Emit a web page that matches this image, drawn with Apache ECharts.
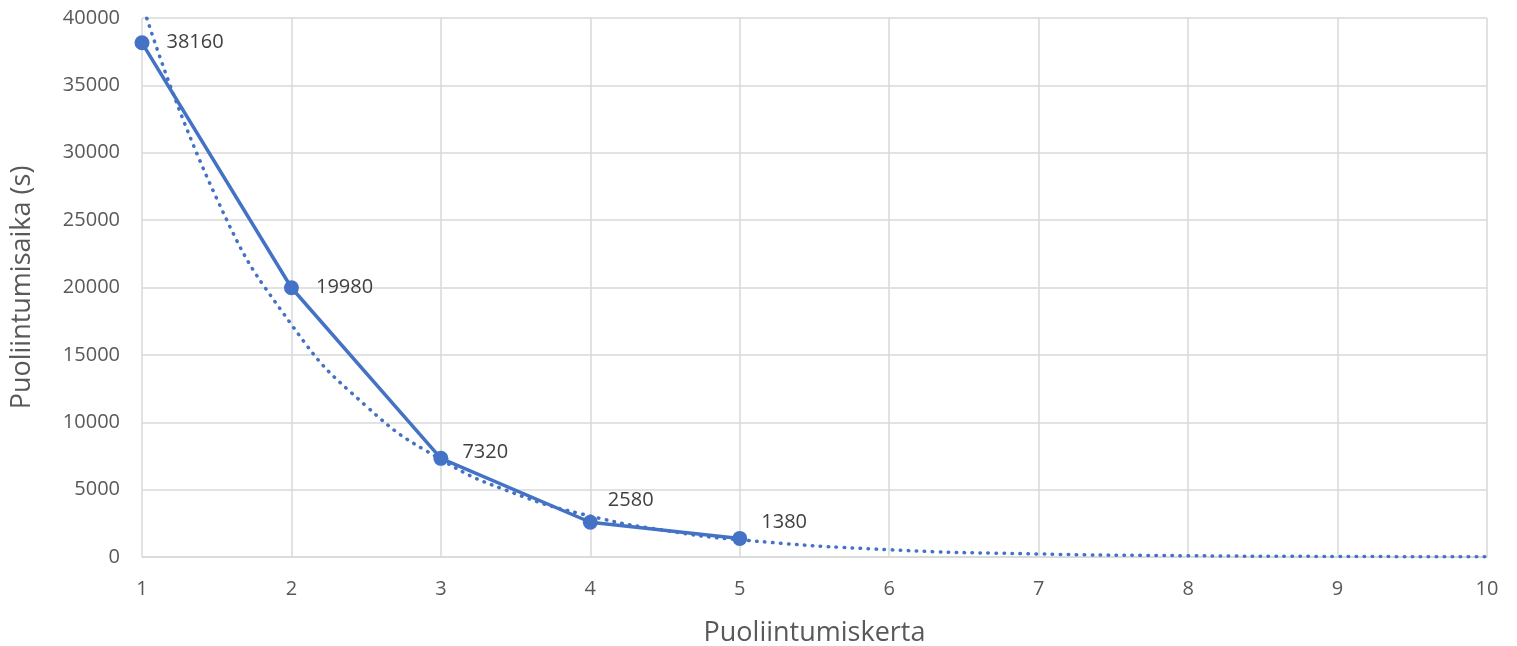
<!DOCTYPE html>
<html><head><meta charset="utf-8">
<script src="https://cdn.jsdelivr.net/npm/echarts@6/dist/echarts.min.js"></script>
<style>html,body{margin:0;padding:0;background:#fff}#c{width:1517px;height:646px}</style>
</head><body><div id="c"></div>
<script>
const xValues = [1, 2, 3, 4, 5];
const yValues = [38160, 19980, 7320, 2580, 1380];
const trendX = [1, 1.5, 2, 2.5, 3, 3.5, 4, 4.5, 5, 6, 7, 8, 9, 10];
const trendY = [41100, 26600, 17250, 11200, 7240, 4690, 3040, 1970, 1280, 540, 225, 95, 40, 17];
const labelOffsets = [[0, 0], [0, 0], [-3, -6], [-7, -22], [-3, -16]];

const chart = echarts.init(document.getElementById('c'));
const font = '"Open Sans", "Noto Sans", sans-serif';
chart.setOption({
  animation: false,
  grid: {left: 142, right: 30, top: 18, bottom: 89, outerBoundsMode: 'none', containLabel: false},
  xAxis: {
    type: 'value', min: 1, max: 10, interval: 1,
    name: 'Puoliintumiskerta', nameLocation: 'middle', nameGap: 63,
    nameTextStyle: {fontSize: 27, color: '#595959', fontFamily: font},
    axisLine: {show: true, lineStyle: {color: '#d9d9d9', width: 1.5}},
    axisTick: {show: false},
    axisLabel: {fontSize: 20, color: '#595959', fontFamily: font, margin: 22},
    splitLine: {show: true, lineStyle: {color: '#d9d9d9', width: 1.5}}
  },
  yAxis: {
    type: 'value', min: 0, max: 40000, interval: 5000,
    name: 'Puoliintumisaika (s)', nameLocation: 'middle', nameGap: 106, nameRotate: 90,
    nameTextStyle: {fontSize: 27, color: '#595959', fontFamily: font},
    axisLine: {show: false}, axisTick: {show: false},
    axisLabel: {fontSize: 20, color: '#595959', fontFamily: font, margin: 22, formatter: v => String(v)},
    splitLine: {show: true, lineStyle: {color: '#d9d9d9', width: 1.5}}
  },
  series: [
    {
      type: 'line', data: trendX.map((x, i) => [x, trendY[i]]),
      smooth: true, showSymbol: false, clip: true, z: 2,
      lineStyle: {color: '#4472C4', width: 3.5, type: [0.5, 7.5], cap: 'round'}
    },
    {
      type: 'line', data: xValues.map((x, i) => ({
        value: [x, yValues[i]],
        label: {offset: labelOffsets[i]}
      })),
      symbol: 'circle', symbolSize: 15, z: 3,
      itemStyle: {color: '#4472C4'},
      lineStyle: {color: '#4472C4', width: 3.5},
      label: {show: true, position: 'right', distance: 17, fontSize: 20, color: '#404040', fontFamily: font,
        formatter: p => String(p.value[1])}
    }
  ]
});
</script></body></html>
